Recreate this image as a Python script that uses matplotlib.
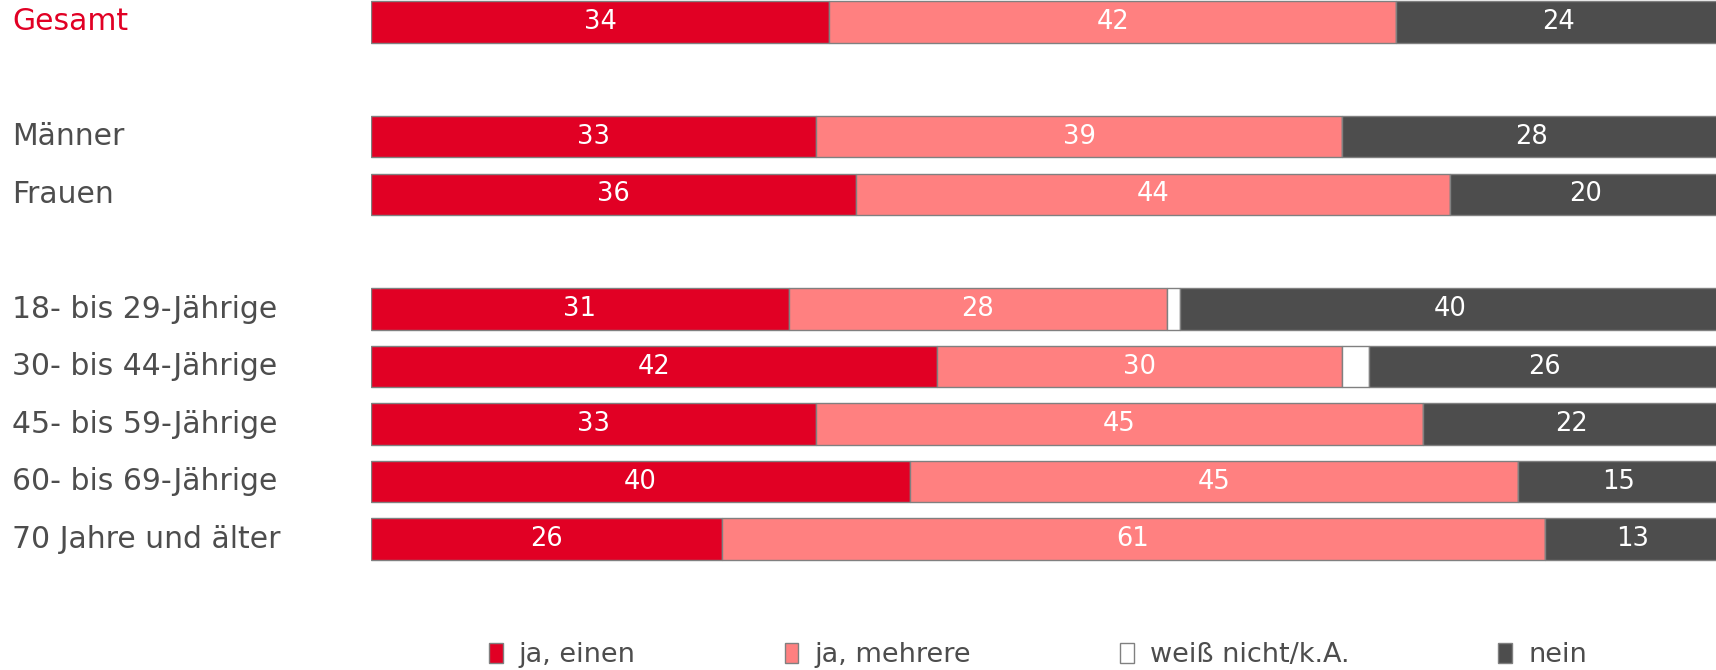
import numpy as np
import matplotlib
matplotlib.use("Agg")
import matplotlib.pyplot as plt
from matplotlib.patches import Patch

# data
groups = ["Gesamt", "Männer", "Frauen", "18- bis 29-Jährige", "30- bis 44-Jährige",
          "45- bis 59-Jährige", "60- bis 69-Jährige", "70 Jahre und älter"]
rows = [0, 2, 3, 5, 6, 7, 8, 9]   # gaps between blocks
ja_einen = [34, 33, 36, 31, 42, 33, 40, 26]
ja_mehrere = [42, 39, 44, 28, 30, 45, 45, 61]
weiss_nicht = [0, 0, 0, 1, 2, 0, 0, 0]
nein = [24, 28, 20, 40, 26, 22, 15, 13]

series = ["ja, einen", "ja, mehrere", "weiß nicht/k.A.", "nein"]
colors = ["#E10024", "#FF8080", "#FFFFFF", "#4D4D4D"]
txt_gray = "#4D4D4D"

fig = plt.figure(figsize=(17.16, 6.70), dpi=100)
ax_left, ax_w = 0.216, 0.7864
ax = fig.add_axes([ax_left, 0.144, ax_w, 0.856])

left = np.zeros(len(rows))
for name, vals, col in zip(series, [ja_einen, ja_mehrere, weiss_nicht, nein], colors):
    vals = np.array(vals, dtype=float)
    bars = ax.barh(rows, vals, left=left, height=0.72, color=col,
                   edgecolor="#808080", linewidth=1.0)
    for b, v in zip(bars, vals):
        if v >= 5:
            ax.text(b.get_x() + b.get_width() / 2, b.get_y() + b.get_height() / 2,
                    f"{v:.0f}", ha="center", va="center", color="white", fontsize=18.5)
    left += vals

ax.set_xlim(0, 100)
ax.set_ylim(9.6, -0.38)
ax.axis("off")

for g, r in zip(groups, rows):
    c = "#E10024" if g == "Gesamt" else txt_gray
    ax.text(-ax_left / ax_w * 100 + 0.9, r, g, ha="left", va="center",
            color=c, fontsize=21.5, clip_on=False)

handles = [Patch(facecolor=c, edgecolor="#808080", linewidth=1.0) for c in colors]
leg = fig.legend(handles, series, loc="center left", bbox_to_anchor=(0.285, 0.022),
                 ncol=4, frameon=False, fontsize=19.5, handlelength=0.5,
                 handleheight=0.75, handletextpad=0.6, columnspacing=5.5,
                 borderaxespad=0, borderpad=0)
for t in leg.get_texts():
    t.set_color(txt_gray)

fig.savefig("out.png", dpi=100)
